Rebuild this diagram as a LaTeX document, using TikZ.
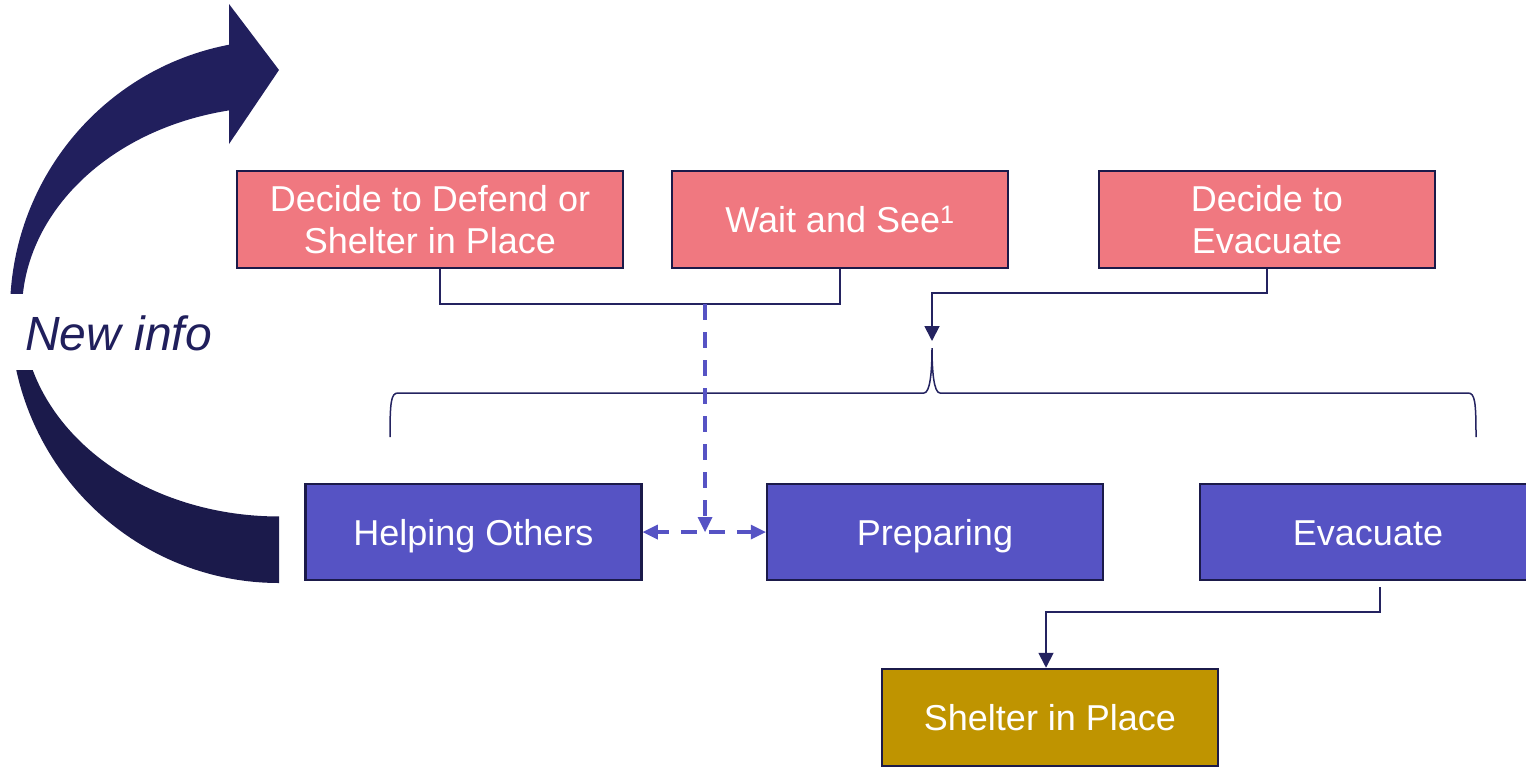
\documentclass[tikz,border=0pt]{standalone}
\usepackage{fontspec}
\setmainfont{Liberation Sans}
\usetikzlibrary{arrows.meta}

\definecolor{pinkfill}{RGB}{240,120,128}
\definecolor{bluefill}{RGB}{86,83,196}
\definecolor{goldfill}{RGB}{191,148,0}
\definecolor{boxedge}{RGB}{27,26,74}
\definecolor{linecol}{RGB}{36,35,96}
\definecolor{arrowtop}{RGB}{33,31,93}
\definecolor{arrowbot}{RGB}{27,26,75}
\definecolor{infotext}{RGB}{32,31,92}

\tikzset{
  box/.style={draw=boxedge, line width=2.5pt, inner sep=0pt, align=center,
    text=white, font=\fontsize{36}{42}\selectfont},
  oneline/.style={text height=26pt, text depth=0pt},
  redbox/.style={box, fill=pinkfill, minimum height=97pt},
  bluebox/.style={box, oneline, fill=bluefill, minimum width=336pt, minimum height=96pt},
  goldbox/.style={box, oneline, fill=goldfill, minimum width=336pt, minimum height=97pt},
  conn/.style={draw=linecol, line width=1.8pt},
  navytip/.style={-{Triangle[width=15pt,length=15pt]}},
  dashblue/.style={draw=bluefill, line width=3.5pt, dash pattern=on 16pt off 12pt},
  bluetip/.style={fill=bluefill, draw=none}
}

\begin{document}
\begin{tikzpicture}[x=1pt, y=-1pt]
\useasboundingbox (0,0) rectangle (1526,766);

% curved "new info" arrow, split around its label
\def\bandpath{(279,583) arc[start angle=90, end angle=259.29, x radius=269, y radius=271.5]
  -- (229,4) -- (279,70) -- (229,144) -- (229,110.4)
  arc[start angle=258.78, end angle=90, x radius=257, y radius=205] -- cycle}
\begin{scope}
  \clip (0,0) rectangle (300,293);
  \fill[arrowtop] \bandpath;
\end{scope}
\begin{scope}
  \clip (0,370) rectangle (300,766);
  \fill[arrowbot] \bandpath;
\end{scope}
\node[text=infotext, font=\fontsize{48}{52}\selectfont\itshape, anchor=base west, inner sep=0pt] (info) at (25,350) {New info};

% decisions
\node[redbox, minimum width=386pt] (p1) at (430,219.5) {Decide to Defend or\\Shelter in Place};
\node[redbox, oneline, minimum width=336pt] (p2) at (840,219.5) {Wait and See\textsuperscript{1}};
\node[redbox, minimum width=336pt] (p3) at (1267,219.5) {Decide to\\Evacuate};

% actions
\node[bluebox] (b1) at (473.5,532) {Helping Others};
\node[bluebox] (b2) at (935,532) {Preparing};
\node[bluebox] (b3) at (1368,532) {Evacuate};
\node[goldbox] (g) at (1050,717.5) {Shelter in Place};

% joins
\coordinate (j1) at (705,304);
\coordinate (j2) at (705,532);
\coordinate (k1) at (932,293);
\coordinate (k2) at (932,341);
\coordinate (m1) at (1046,612);

\draw[conn] ([xshift=10pt]p1.south) |- (p2.south |- j1) -- (p2.south);
\draw[conn, navytip] (p3.south) |- (k1) -- (k2);

% brace over the action row
\coordinate (bl) at (390,437);
\coordinate (br) at (1476,437);
\coordinate (bt) at (932,348);
\draw[conn, line width=1.5pt] (bl) .. controls (390,402) and (391,393) .. (398,393) -- (924,393)
  .. controls (930,393) and (932,372) .. (bt)
  .. controls (932,372) and (934,393) .. (940,393) -- (1468,393)
  .. controls (1475,393) and (1476,402) .. (br);

% dashed links
\draw[dashblue] (j1) -- ([yshift=14pt]j2);
\fill[bluetip] (j2) -- ++(-7.5,-15) -- ++(15,0) -- cycle;
\draw[dashblue, dash phase=4pt] ([xshift=14pt]b1.east) -- ([xshift=-14pt]b2.west);
\fill[bluetip] (b1.east) -- ++(15,-7.5) -- ++(0,15) -- cycle;
\fill[bluetip] (b2.west) -- ++(-15,-7.5) -- ++(0,15) -- cycle;

% evacuate leads to shelter
\draw[conn, navytip] ([xshift=12pt,yshift=-6pt]b3.south) |- (m1) -- ([xshift=-4pt]g.north);
\end{tikzpicture}
\end{document}
